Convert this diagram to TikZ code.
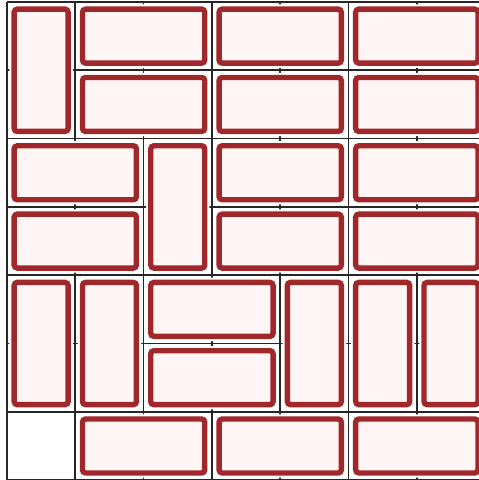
\documentclass[tikz,border=0pt]{standalone}
\usepackage{tikz}

\definecolor{tilered}{HTML}{A0282A}
\definecolor{tilefill}{HTML}{FFF5F4}

\tikzset{
  tile/.style={draw=tilered, fill=tilefill, line width=2.25pt, rounded corners=1.3pt,
    preaction={draw=white, line width=3.9pt}},
  gridline/.style={draw=black!85, line width=0.7pt}
}

\begin{document}
\begin{tikzpicture}
  \useasboundingbox (-0.1025,-6.998) rectangle (6.896,0.0293);
  % Grille
  \draw[gridline] (0,-7) grid (7,0);
  % Tuiles : colonne/ligne/largeur/hauteur
  \foreach \c/\r/\w/\h in {
      0/0/1/2, 1/0/2/1, 3/0/2/1, 5/0/2/1, 1/1/2/1, 3/1/2/1, 5/1/2/1,
      0/2/2/1, 0/3/2/1, 2/2/1/2, 3/2/2/1, 5/2/2/1, 3/3/2/1, 5/3/2/1,
      0/4/1/2, 1/4/1/2, 2/4/2/1, 2/5/2/1, 4/4/1/2, 5/4/1/2, 6/4/1/2,
      1/6/2/1, 3/6/2/1, 5/6/2/1}
    \draw[tile] (\c+0.105,-\r-0.105) rectangle (\c+\w-0.105,-\r-\h+0.105);
\end{tikzpicture}
\end{document}
